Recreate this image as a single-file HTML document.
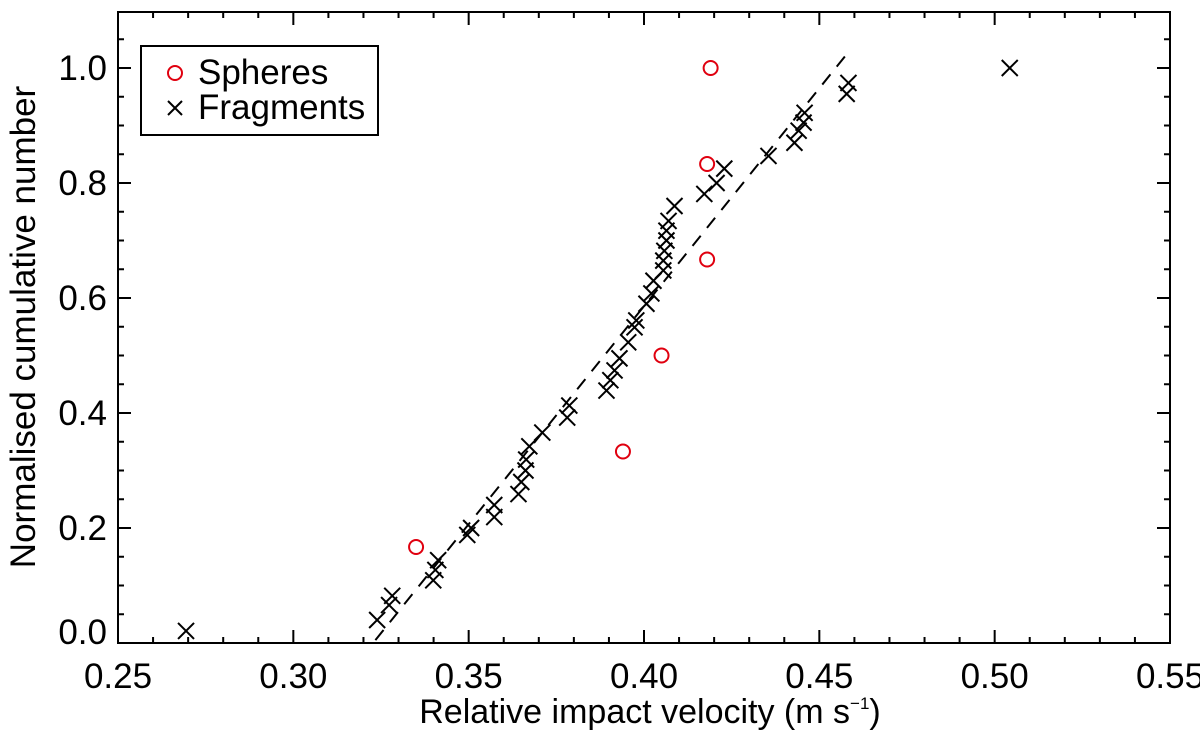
<!DOCTYPE html>
<html><head><meta charset="utf-8"><style>
body{margin:0;background:#fff}
svg{display:block;font-family:"Liberation Sans",Arial,sans-serif}
</style></head><body>
<svg id="chart" width="1200" height="739" viewBox="0 0 1200 739" xmlns="http://www.w3.org/2000/svg">
<rect x="0" y="0" width="1200" height="739" fill="#fff"/>
<g id="marks"></g>
<g id="axes"></g>
<text x="650" y="723" font-size="34" text-anchor="middle">Relative impact velocity (m s<tspan font-size="17" dy="-14">−1</tspan><tspan dy="14">)</tspan></text>
<text transform="translate(35,327) rotate(-90)" font-size="35" text-anchor="middle">Normalised cumulative number</text>
<g>
<rect x="141" y="46" width="237" height="89" fill="#fff" stroke="#000" stroke-width="2"/>
<circle cx="175" cy="73" r="7" fill="none" stroke="#e0000f" stroke-width="2"/>
<text x="198" y="84" font-size="35">Spheres</text>
<path d="M168 101L182 115M182 101L168 115" stroke="#000" stroke-width="2"/>
<text x="198" y="119" font-size="35">Fragments</text>
</g>
</svg>
<script>
const fragX=[0.2694,0.3239,0.3273,0.3282,0.3399,0.3405,0.3413,0.3496,0.3507,0.3573,0.3573,0.3642,0.3650,0.3662,0.3664,0.3673,0.3710,0.3781,0.3787,0.3893,0.3904,0.3916,0.3930,0.3955,0.3973,0.3978,0.4007,0.4021,0.4027,0.4055,0.4055,0.4058,0.4064,0.4064,0.4070,0.4087,0.4172,0.4207,0.4229,0.4355,0.4429,0.4441,0.4455,0.4458,0.4578,0.4583,0.5043];
const fragY=[0.021,0.040,0.066,0.082,0.109,0.127,0.144,0.188,0.200,0.219,0.240,0.259,0.280,0.300,0.319,0.342,0.366,0.392,0.413,0.439,0.457,0.474,0.495,0.523,0.549,0.561,0.590,0.608,0.630,0.648,0.665,0.682,0.700,0.717,0.734,0.760,0.781,0.800,0.825,0.847,0.870,0.891,0.905,0.922,0.955,0.974,1.0];
const sphX=[0.335,0.394,0.405,0.418,0.418,0.419];
const sphY=[0.167,0.333,0.5,0.667,0.833,1.0];
const fitX=[0.3234,0.4586];
const fitY=[0.005,1.03];
const xTicks=[0.25,0.30,0.35,0.40,0.45,0.50,0.55];
const xTickLabels=["0.25","0.30","0.35","0.40","0.45","0.50","0.55"];
const yTicks=[0,0.2,0.4,0.6,0.8,1.0];
const yTickLabels=["0.0","0.2","0.4","0.6","0.8","1.0"];

const L=118,R=1170,T=12,B=643;
const X=v=>L+(v-0.25)/0.30*(R-L);
const Y=v=>B-v*575;
const NS="http://www.w3.org/2000/svg";
const marks=document.getElementById('marks'),axes=document.getElementById('axes');
function mk(tag,attrs,parent){const e=document.createElementNS(NS,tag);for(const k in attrs)e.setAttribute(k,attrs[k]);parent.appendChild(e);return e;}

const fit=mk('line',{x1:X(fitX[0]),y1:Y(fitY[0]),x2:X(fitX[1]),y2:Y(fitY[1]),stroke:'#000','stroke-width':2,'stroke-dasharray':'13,10'},marks);



fragX.forEach((v,i)=>{const x=X(v),y=Y(fragY[i]);
const p=mk('path',{d:`M${x-8} ${y-8}L${x+8} ${y+8}M${x+8} ${y-8}L${x-8} ${y+8}`,stroke:'#000','stroke-width':2},marks);

});

sphX.forEach((v,i)=>{
const c=mk('circle',{cx:X(v),cy:Y(sphY[i]),r:7,fill:'none',stroke:'#e0000f','stroke-width':2},marks);

});

const frame=mk('rect',{x:L,y:T,width:R-L,height:B-T,fill:'none',stroke:'#000','stroke-width':2},axes);



let d='';
for(let k=0;k<=30;k++){const v=0.25+k*0.01,x=X(v),len=(k%5==0)?13:6;d+=`M${x} ${B}V${B-len}M${x} ${T}V${T+len}`;}
for(let k=0;k<=21;k++){const v=k*0.05,y=Y(v),len=(k%4==0)?13:6;if(y<T)continue;d+=`M${L} ${y}H${L+len}M${R} ${y}H${R-len}`;}
const ticks=mk('path',{d:d,stroke:'#000','stroke-width':2,fill:'none'},axes);



xTicks.forEach((v,i)=>{const t=mk('text',{x:X(v),y:688,'font-size':35,'text-anchor':'middle'},axes);t.textContent=xTickLabels[i];

});
yTicks.forEach((v,i)=>{const yy=i==0?Y(v)+1:Y(v)+12;const t=mk('text',{x:107,y:yy,'font-size':35,'text-anchor':'end'},axes);t.textContent=yTickLabels[i];

});
</script>
</body></html>
